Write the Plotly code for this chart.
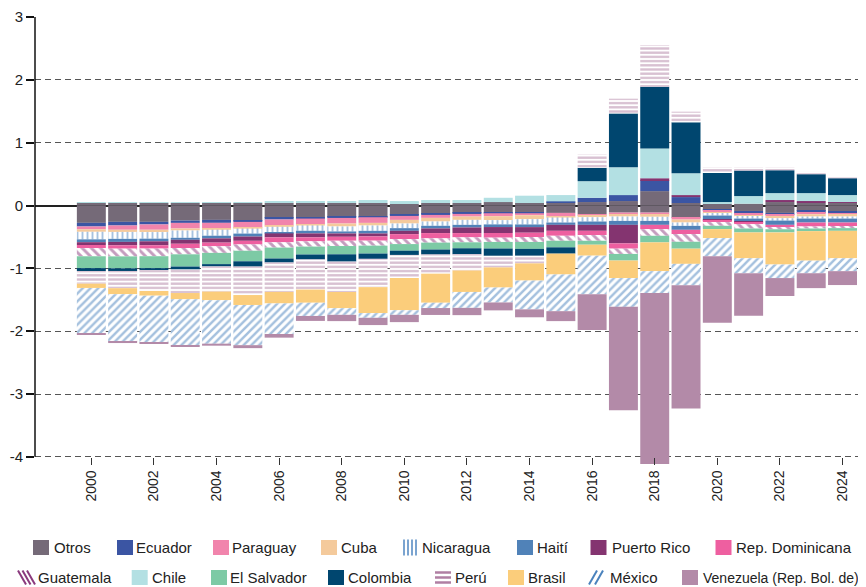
import plotly.graph_objects as go

# ---------------- DATA ----------------
years = list(range(2000, 2025))

otros_pos = [0.04, 0.04, 0.04, 0.04, 0.04, 0.04, 0.04, 0.04, 0.04, 0.04, 0.024, 0.04, 0.04,
             0.055, 0.04, 0.05, 0.055, 0.071, 0.229, 0.04, 0.029, 0.029, 0.055, 0.04, 0.04]
otros_neg = [-0.276, -0.26, -0.26, -0.24, -0.229, -0.245, -0.197, -0.192, -0.182, -0.182, -0.15, -0.134, -0.118,
             -0.118, -0.118, -0.118, -0.139, -0.113, -0.113, -0.197, -0.071, -0.087, -0.118, -0.087, -0.1]
ecuador = [-0.058, -0.058, -0.042, -0.037, -0.047, -0.016, -0.026, -0.016, -0.016, -0.005, -0.016, -0.016, -0.016,
           -0.005, -0.005, 0.016, 0.068, 0.095, 0.174, 0.094, -0.01, -0.042, -0.032, -0.031, -0.029]
paraguay = [-0.045, -0.068, -0.084, -0.089, -0.089, -0.095, -0.095, -0.089, -0.089, -0.09, -0.063, -0.047, -0.042,
            -0.047, -0.032, -0.053, -0.021, -0.037, -0.037, -0.027, -0.026, -0.025, -0.016, -0.021, -0.021]
cuba = [-0.04, -0.035, -0.037, -0.032, -0.021, -0.012, -0.021, -0.021, -0.047, -0.042, -0.058, -0.058, -0.053,
        -0.063, -0.063, -0.02, -0.027, -0.026, -0.03, -0.047, -0.027, -0.026, -0.037, -0.037, -0.026]
nicaragua = [-0.12, -0.11, -0.105, -0.116, -0.095, -0.079, -0.084, -0.084, -0.079, -0.084, -0.074, -0.068, -0.079,
             -0.068, -0.084, -0.08, -0.068, -0.069, -0.065, -0.053, -0.026, -0.028, -0.037, -0.032, -0.032]
haiti = [-0.045, -0.048, -0.042, -0.032, -0.042, -0.047, -0.021, -0.042, -0.032, -0.042, -0.042, -0.042, -0.042,
         -0.042, -0.042, -0.037, -0.053, -0.063, -0.063, -0.063, -0.068, -0.047, -0.068, -0.063, -0.063]
puerto_rico = [-0.045, -0.055, -0.063, -0.063, -0.068, -0.068, -0.063, -0.063, -0.053, -0.047, -0.053, -0.074, -0.089,
               -0.095, -0.089, -0.095, -0.095, -0.295, 0.031, 0.032, -0.01, -0.016, 0.032, 0.031, 0.015]
rep_dominicana = [-0.05, -0.053, -0.053, -0.068, -0.058, -0.058, -0.079, -0.063, -0.063, -0.068, -0.079, -0.084, -0.068,
                  -0.074, -0.068, -0.079, -0.068, -0.084, -0.069, -0.068, -0.027, -0.027, -0.04, -0.063, -0.063]
guatemala = [-0.129, -0.123, -0.121, -0.1, -0.105, -0.1, -0.084, -0.084, -0.084, -0.079, -0.079, -0.068, -0.079,
             -0.068, -0.079, -0.079, -0.09, -0.084, -0.105, -0.122, -0.058, -0.068, -0.03, -0.032, -0.026]
chile = [0.012, 0.01, 0.012, 0.01, 0.01, 0.01, 0.03, 0.03, 0.03, 0.047, 0.047, 0.047, 0.047,
         0.068, 0.116, 0.1, 0.264, 0.442, 0.474, 0.347, 0.026, 0.121, 0.11, 0.126, 0.111]
el_salvador = [-0.189, -0.19, -0.19, -0.195, -0.179, -0.168, -0.174, -0.126, -0.132, -0.126, -0.105, -0.11, -0.095,
               -0.105, -0.11, -0.105, -0.063, -0.105, -0.105, -0.11, -0.053, -0.063, -0.05, -0.042, -0.043]
colombia = [-0.047, -0.042, -0.032, -0.047, -0.037, -0.084, -0.063, -0.079, -0.116, -0.084, -0.068, -0.079, -0.095,
            -0.116, -0.11, -0.1, 0.213, 0.858, 0.98, 0.811, 0.463, 0.406, 0.364, 0.301, 0.268]
peru = [-0.2, -0.274, -0.332, -0.374, -0.4, -0.453, -0.468, -0.479, -0.484, -0.45, -0.368, -0.305, -0.258,
        -0.184, -0.121, 0.0, 0.21, 0.234, 0.668, 0.169, 0.09, 0.052, 0.047, 0.036, 0.032]
brasil = [-0.068, -0.095, -0.074, -0.1, -0.137, -0.158, -0.184, -0.21, -0.258, -0.414, -0.512, -0.463, -0.342,
          -0.321, -0.274, -0.332, -0.174, -0.279, -0.458, -0.242, -0.142, -0.411, -0.512, -0.47, -0.437]
mexico = [-0.72, -0.758, -0.746, -0.743, -0.692, -0.64, -0.486, -0.21, -0.105, -0.074, -0.073, -0.084, -0.253,
          -0.237, -0.458, -0.584, -0.616, -0.458, -0.348, -0.342, -0.29, -0.237, -0.215, -0.2, -0.205]
venezuela = [-0.016, -0.02, -0.016, -0.016, -0.032, -0.047, -0.058, -0.079, -0.1, -0.116, -0.116, -0.11, -0.116,
             -0.126, -0.126, -0.158, -0.566, -1.647, -2.722, -1.959, -1.058, -0.679, -0.285, -0.237, -0.221]

x_ticks = list(range(2000, 2025, 2))
y_ticks = [-4, -3, -2, -1, 0, 1, 2, 3]
y_tick_labels = [str(v) for v in y_ticks]

# ---------------- STYLES ----------------
series = [
    ("Otros", otros_pos), ("Otros", otros_neg), ("Ecuador", ecuador), ("Paraguay", paraguay),
    ("Cuba", cuba), ("Nicaragua", nicaragua), ("Haití", haiti), ("Puerto Rico", puerto_rico),
    ("Rep. Dominicana", rep_dominicana), ("Guatemala", guatemala), ("Chile", chile),
    ("El Salvador", el_salvador), ("Colombia", colombia), ("Perú", peru), ("Brasil", brasil),
    ("México", mexico), ("Venezuela (Rep. Bol. de)", venezuela),
]
solid = {
    "Otros": "#756a78", "Ecuador": "#3b55a3", "Paraguay": "#f184ac", "Cuba": "#f4ca9c",
    "Haití": "#5082b8", "Puerto Rico": "#843470", "Rep. Dominicana": "#ee5fa0",
    "Chile": "#b3e0e3", "El Salvador": "#7dcaa5", "Colombia": "#00466f",
    "Brasil": "#fbcd7b", "Venezuela (Rep. Bol. de)": "#b38aa8",
}
patterned = {
    "Nicaragua": dict(shape="|", fgcolor="#4f86c0", size=5, solidity=0.38),
    "Guatemala": dict(shape="\\", fgcolor="#8a3a7d", size=6.5, solidity=0.45),
    "Perú": dict(shape="-", fgcolor="#b07fa3", size=4.2, solidity=0.55),
    "México": dict(shape="/", fgcolor="#4a82bd", size=5.5, solidity=0.45),
}

FONT = "Liberation Sans, Arial, sans-serif"
fig = go.Figure()
for name, vals in series:
    if name in patterned:
        p = patterned[name]
        marker = dict(color="white", line=dict(width=0),
                      pattern=dict(shape=p["shape"], fgcolor=p["fgcolor"], bgcolor="white",
                                   size=p["size"], solidity=p["solidity"], fillmode="overlay"))
    else:
        marker = dict(color=solid[name], line=dict(width=0))
    fig.add_trace(go.Bar(x=years, y=vals, name=name, marker=marker, showlegend=False))

# ---------------- LAYOUT ----------------
Y_MIN, Y_MAX = -4.13, 3.0
W, H = 866, 587
OFF = 8                       # page body margin of the html document
L, R, T, B = 35, 866, 17, 465  # plot area in window pixels


def px_x(X):
    return (X - L) / (R - L)


def px_y(Y):
    return (B - Y) / (B - T)


fig.update_layout(
    width=W, height=H,
    margin=dict(l=L - OFF, r=W - (R - OFF), t=T - OFF, b=H - (B - OFF)),
    barmode="relative", bargap=0.075,
    plot_bgcolor="white", paper_bgcolor="white",
    font=dict(family=FONT, size=14, color="#222"),
    showlegend=False,
)
fig.update_xaxes(
    range=[1998.2, 2024.75], tickvals=x_ticks, tickangle=-90,
    ticks="outside", ticklen=7, tickwidth=1.3, tickcolor="#333",
    showgrid=False, showline=False, zeroline=False, automargin=False,
    anchor="free", position=(-4 - Y_MIN) / (Y_MAX - Y_MIN),
    tickfont=dict(family=FONT, size=14, color="#222"),
)
fig.update_yaxes(
    range=[Y_MIN, Y_MAX], tickvals=y_ticks, ticktext=y_tick_labels, automargin=False,
    ticks="outside", ticklen=8, tickwidth=1.5, tickcolor="#111",
    showgrid=True, gridcolor="#555", gridwidth=1.2, griddash="6px,4px",
    zeroline=True, zerolinecolor="#222", zerolinewidth=2,
    showline=False,
    tickfont=dict(family=FONT, size=15, color="#222"),
)

shapes = [dict(type="line", xref="paper", yref="y", x0=0, x1=0, y0=-4, y1=3,
               line=dict(color="#111", width=1.5), layer="above")]
annotations = []

# custom legend (positions in window pixels)
ROW1, ROW2 = 547.5, 577.5
legend_items = [
    ("Otros", 33, 52.8, ROW1), ("Ecuador", 117, 135, ROW1), ("Paraguay", 213, 231, ROW1),
    ("Cuba", 321, 340, ROW1), ("Nicaragua", 403, 420.5, ROW1), ("Haití", 517, 535.5, ROW1),
    ("Puerto Rico", 590.5, 611, ROW1), ("Rep. Dominicana", 715.5, 735, ROW1),
    ("Guatemala", 18, 36.7, ROW2), ("Chile", 131.7, 151, ROW2), ("El Salvador", 211, 229, ROW2),
    ("Colombia", 328, 347, ROW2), ("Perú", 435, 454, ROW2), ("Brasil", 508, 527, ROW2),
    ("México", 589, 609.4, ROW2), ("Venezuela (Rep. Bol. de)", 682, 701.7, ROW2),
]
for name, sx, tx, cy in legend_items:
    if name in solid:
        shapes.append(dict(type="rect", xref="paper", yref="paper",
                           x0=px_x(sx), x1=px_x(sx + 16), y0=px_y(cy - 7.5), y1=px_y(cy + 7.5),
                           fillcolor=solid[name], line=dict(width=0)))
    else:
        col = patterned[name]["fgcolor"]
        if name == "Nicaragua":
            segs = [((sx + d, cy - 8), (sx + d, cy + 8)) for d in (1, 5, 9, 13)]
            lw = 1.5
        elif name == "Guatemala":
            segs = [((sx + d, cy - 7), (sx + d + 8, cy + 7)) for d in (0, 4.5, 9)]
            lw = 2
        elif name == "Perú":
            segs = [((sx, cy + d), (sx + 16, cy + d)) for d in (-5, 0, 5)]
            lw = 2.5
        else:  # México
            segs = [((sx + d, cy + 7), (sx + d + 8, cy - 7)) for d in (0, 6)]
            lw = 2
        for (x0, y0), (x1, y1) in segs:
            shapes.append(dict(type="line", xref="paper", yref="paper",
                               x0=px_x(x0), x1=px_x(x1), y0=px_y(y0), y1=px_y(y1),
                               line=dict(color=col, width=lw)))
    fsize = 14 if name.startswith("Venezuela") else 15
    annotations.append(dict(text=name, xref="paper", yref="paper", x=px_x(tx), y=px_y(cy),
                            xanchor="left", yanchor="middle", showarrow=False,
                            font=dict(family=FONT, size=fsize, color="#222"), borderpad=0))

fig.update_layout(shapes=shapes, annotations=annotations)
fig.write_html("out.html")
